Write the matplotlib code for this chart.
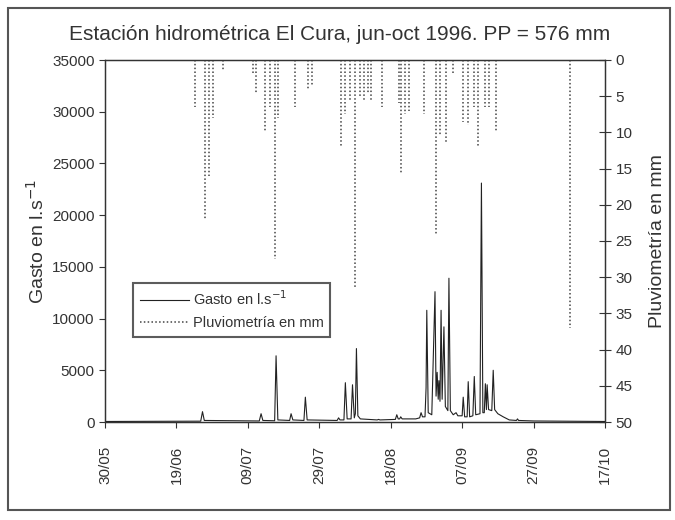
import matplotlib
matplotlib.use("Agg")
import matplotlib.pyplot as plt
from matplotlib.patches import Rectangle

plt.rcParams['font.family'] = ['Liberation Sans', 'DejaVu Sans']

# ---- data (days since 30/05/1996) ----
date_labels = ["30/05", "19/06", "09/07", "29/07", "18/08", "07/09", "27/09", "17/10"]
date_ticks = [0, 20, 40, 60, 80, 100, 120, 140]

gasto_t = [0, 26.8, 27.3, 27.8, 43.2, 43.7, 44.2, 47.5, 47.9, 48.4, 51.7, 52.1, 52.6,
           55.7, 56.1, 56.6, 65.0, 65.4, 65.8, 66.9, 67.3, 67.8, 68.9, 69.3, 69.8,
           70.1, 70.4, 70.8, 71.5, 76.2, 76.6, 77.0, 81.3, 81.7, 82.1, 82.5, 82.8, 83.2,
           87.0, 88.1, 88.5, 88.9, 89.6, 89.9, 90.1, 90.5, 91.5, 92.4, 92.7, 93.0, 93.3,
           93.5, 93.8, 94.1, 94.4, 94.9, 95.3, 96.0, 96.3, 96.7, 97.5, 98.3, 98.8,
           100.0, 100.3, 100.7, 101.4, 101.7, 102.1, 103.0, 103.4, 103.8, 105.0, 105.4,
           105.8, 106.2, 106.5, 106.8, 107.0, 107.4, 108.3, 108.7, 109.1, 110.0, 111.5,
           113.2, 115.2, 115.5, 115.8, 120, 140]
gasto_q = [50, 80, 1000, 150, 100, 800, 150, 120, 6400, 200, 150, 800, 200,
           150, 2400, 200, 150, 400, 200, 200, 3800, 300, 300, 3600, 400,
           800, 7100, 600, 300, 200, 250, 200, 250, 700, 300, 300, 500, 300,
           300, 400, 900, 500, 500, 3300, 10800, 900, 700, 12600, 2500, 4800, 2200,
           4000, 2000, 10800, 2200, 9200, 1500, 1100, 13900, 1100, 700, 900, 600,
           600, 2400, 500, 500, 3900, 500, 600, 4400, 700, 800, 23100,
           900, 900, 3700, 1200, 3600, 1200, 1100, 5000, 1200, 800, 500,
           200, 150, 300, 150, 100, 50]

rain_t = [25.1, 27.9, 29.0, 30.1, 33.0, 41.4, 42.3, 44.8, 46.2, 47.6, 48.5, 53.2,
          56.9, 58.0, 66.2, 67.3, 68.7, 70.1, 71.3, 72.4, 73.5, 74.4, 77.5, 82.3,
          82.8, 83.9, 85.1, 89.3, 92.7, 93.8, 95.5, 97.5, 100.3, 101.7, 103.4,
          104.5, 106.5, 107.6, 109.6, 130.1]
rain_mm = [6.5, 22, 16, 8, 1.5, 2, 4.5, 10, 6.5, 27.5, 8, 6.5,
           4, 3.5, 12, 7.5, 5.5, 31.5, 5, 5.5, 4.5, 5.5, 6.5, 6,
           15.7, 7.5, 7, 7.5, 24, 10.5, 11.5, 2, 8.5, 9, 6.5,
           12, 6.5, 6.5, 10, 37]

gasto_ticks = list(range(0, 35001, 5000))
rain_ticks = list(range(0, 51, 5))

# ---- figure ----
fig = plt.figure(figsize=(6.75, 5.2), dpi=100)
fig.patches.append(Rectangle((8 / 675, 1 - 510 / 520), 662 / 675, 502 / 520,
                             transform=fig.transFigure, fill=False,
                             edgecolor='#555555', linewidth=1.5))
ax = fig.add_axes([105 / 675, 1 - 422 / 520, 500 / 675, 362 / 520])
ax2 = ax.twinx()

txt = '#333333'
l1, = ax.plot(gasto_t, gasto_q, color='#222222', linewidth=0.8,
              label='Gasto en l.s$^{-1}$')
l2 = ax2.vlines(rain_t, 0, rain_mm, colors='#444444', linestyles=(0, (1, 1.5)),
                linewidth=1.1, label='Pluviometría en mm')

ax.set_xlim(0, 140)
ax.set_ylim(0, 35000)
ax2.set_ylim(50, 0)

ax.set_xticks(date_ticks)
ax.set_xticklabels(date_labels, rotation=90)
ax.set_yticks(gasto_ticks)
ax.set_yticklabels([str(v) for v in gasto_ticks])
ax2.set_yticks(rain_ticks)
ax2.set_yticklabels([str(v) for v in rain_ticks])

ax.tick_params(axis='both', labelsize=11, colors=txt, length=4, width=0.8)
ax.tick_params(axis='x', pad=13)
ax2.tick_params(axis='y', labelsize=11, colors=txt, direction='inout', length=8, width=0.8)

for a in (ax, ax2):
    for s in a.spines.values():
        s.set_color('#333333')
        s.set_linewidth(0.9)

ax.set_ylabel('Gasto en l.s$^{-1}$', fontsize=14, color=txt, labelpad=3)
ax2.set_ylabel('Pluviometría en mm', fontsize=14, color=txt, labelpad=12)

fig.text(340 / 675, 1 - 35 / 520, 'Estación hidrométrica El Cura, jun-oct 1996. PP = 576 mm',
         ha='center', va='center', fontsize=15, color=txt)

leg = ax2.legend([l1, l2], ['Gasto en l.s$^{-1}$', 'Pluviometría en mm'],
                 loc='upper left', bbox_to_anchor=(0.056, 0.384), fontsize=10.5,
                 frameon=True, fancybox=False, handlelength=3.4, handletextpad=0.25,
                 borderpad=0.45, labelspacing=0.55, borderaxespad=0)
leg.get_frame().set_edgecolor('#333333')
leg.get_frame().set_linewidth(1.5)
for t in leg.get_texts():
    t.set_color(txt)

fig.savefig('out.png', dpi=100)
